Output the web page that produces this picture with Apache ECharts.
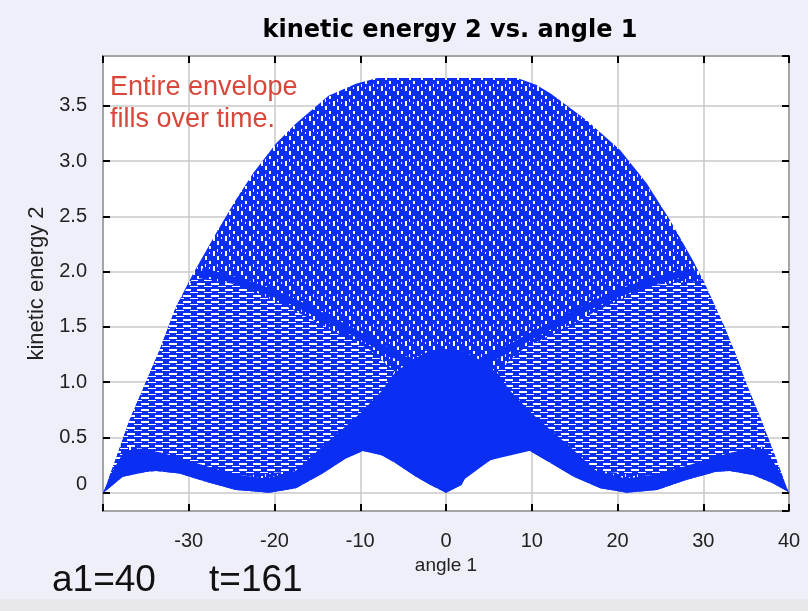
<!DOCTYPE html>
<html>
<head>
<meta charset="utf-8">
<script src="https://cdn.jsdelivr.net/npm/echarts@6/dist/echarts.min.js"></script>
<style>
  html, body { margin: 0; padding: 0; background: #efeff9; }
  #chart { width: 808px; height: 611px; }
</style>
</head>
<body>
<div id="chart"></div>
<script>
// Outer envelope of the trajectory: top edge (angle 1 in degrees, kinetic energy 2)
const topAngle  = [-40, -39.8, -38.4, -36.9, -34.9, -33.4, -31.5, -29.5, -26.8, -24.5, -22.5, -19.8, -17.5, -13.7, -10.5, -8,
                   8.3, 10.5, 12.2, 16.4, 20.3, 23.4, 26.1, 28.8, 30.0, 32.3, 33.9, 35.0, 36.6, 38.1, 39.7, 40];
const topEnergy = [0, 0.02, 0.33, 0.66, 1.02, 1.29, 1.68, 1.98, 2.35, 2.65, 2.89, 3.16, 3.34, 3.59, 3.70, 3.75,
                   3.75, 3.69, 3.61, 3.37, 3.10, 2.80, 2.47, 2.10, 1.92, 1.53, 1.23, 0.99, 0.69, 0.39, 0.05, 0];

// Bottom edge of the envelope (the white scallops)
const lowAngle  = [-40, -39.8, -37.7, -34.9, -33.8, -31.1, -28.0, -24.5, -20.6, -17.5, -14.4, -11.7, -9.7, -8.2, -5.9, -3.5, -1.8, 0,
                   1.8, 2.5, 5.2, 8.7, 9.8, 12.2, 14.9, 18.0, 21.1, 24.6, 28.0, 31.5, 33.1, 35.8, 38.1, 39.9, 40];
const lowEnergy = [0, 0.01, 0.145, 0.19, 0.196, 0.175, 0.10, 0.025, 0.0, 0.04, 0.175, 0.31, 0.377, 0.37, 0.27, 0.145, 0.07, 0,
                   0.07, 0.175, 0.296, 0.38, 0.377, 0.27, 0.145, 0.04, 0.0, 0.025, 0.115, 0.19, 0.196, 0.16, 0.085, 0.01, 0];

// Dense band just above the bottom edge (upper side of the band)
const bandAngle  = [-40, -39, -37.5, -35.5, -33, -30, -27, -24, -21, -17.5, -14.4, -12, -10,
                    10, 12, 14.4, 17.5, 21, 24, 27, 30, 33, 35.5, 37.5, 39, 40];
const bandEnergy = [0, 0.18, 0.38, 0.40, 0.36, 0.29, 0.22, 0.16, 0.13, 0.20, 0.42, 0.58, 0.72,
                    0.72, 0.58, 0.42, 0.20, 0.13, 0.16, 0.22, 0.29, 0.36, 0.40, 0.36, 0.18, 0];

// Dense central column
const coreAngle  = [-10, -7.5, -6, -4, -2, 0, 2, 4, 6, 7.5, 10];
const coreEnergy = [0.72, 0.92, 1.08, 1.2, 1.28, 1.3, 1.28, 1.2, 1.08, 0.92, 0.72];

// Dense arms rising from the centre towards the sides
const armLeftAngle   = [-2, -6, -10, -15, -20, -25, -28.5];
const armLeftEnergy  = [1.1, 1.25, 1.42, 1.62, 1.8, 1.93, 2.0];
const armRightAngle  = [2, 6, 10, 15, 20, 25, 29];
const armRightEnergy = [1.1, 1.25, 1.42, 1.62, 1.8, 1.93, 2.0];

// Striped side lobes (outline)
const lobeLeftAngle   = [-39.5, -38.4, -36.9, -34.9, -33.4, -31.5, -29.5, -24, -19, -14, -9, -6, -8, -12, -17.5, -24.5, -31, -36.9];
const lobeLeftEnergy  = [0.1, 0.33, 0.66, 1.02, 1.29, 1.68, 1.95, 1.88, 1.7, 1.5, 1.3, 1.1, 0.8, 0.55, 0.2, 0.15, 0.3, 0.42];
const lobeRightAngle  = [39.5, 38.1, 36.6, 35.0, 33.9, 32.3, 30.0, 24, 19, 14, 9, 6, 8, 12, 17.5, 24.5, 31, 36.9];
const lobeRightEnergy = [0.1, 0.39, 0.69, 0.99, 1.23, 1.53, 1.92, 1.88, 1.7, 1.5, 1.3, 1.1, 0.8, 0.55, 0.2, 0.15, 0.3, 0.42];

const xTicks = [-30, -20, -10, 0, 10, 20, 30, 40];

const BLUE = '#0b2ff2';
const FONT = '"Liberation Sans", Arial, sans-serif';

function zip(a, b) { return a.map((v, i) => [v, b[i]]); }

// Fill textures for the trajectory mesh (staggered white gaps on blue)
function makePattern(w, h, holes) {
  const c = document.createElement('canvas');
  c.width = w; c.height = h;
  const g = c.getContext('2d');
  g.fillStyle = BLUE;
  g.fillRect(0, 0, w, h);
  g.fillStyle = '#ffffff';
  holes.forEach(r => g.fillRect(r[0], r[1], r[2], r[3]));
  return { image: c, repeat: 'repeat' };
}
const meshFill = makePattern(12, 15, [
  [1, 1, 2, 4], [5, 6, 2, 3], [9, 11, 2, 4], [9, 0, 2, 1],
  [1, 9, 1, 3], [5, 12, 1, 2]
]);
const stripeFill = makePattern(14, 6, [
  [1, 1, 8, 2], [8, 4, 6, 1], [0, 4, 2, 1]
]);

function polygonSeries(points, fill, z) {
  return {
    type: 'custom',
    coordinateSystem: 'cartesian2d',
    clip: true,
    z: z,
    silent: true,
    data: points,
    renderItem: function (params, api) {
      if (params.dataIndex !== 0) return null;
      return {
        type: 'polygon',
        shape: { points: points.map(p => api.coord(p)) },
        style: { fill: fill, stroke: null }
      };
    }
  };
}

const envelope = zip(topAngle, topEnergy).concat(zip(lowAngle, lowEnergy).reverse());
const band = zip(bandAngle, bandEnergy).concat(zip(lowAngle, lowEnergy).reverse());
const core = zip(coreAngle, coreEnergy).concat([[9.7, 0.377], [5.2, 0.296], [0, 0], [-5.2, 0.296], [-9.7, 0.377]]);

const chart = echarts.init(document.getElementById('chart'), null, { renderer: 'canvas' });

// Inward ticks on all four sides of the frame
const axisTickStyle = { show: true, inside: true, length: 7, lineStyle: { color: '#000', width: 2 } };
const hiddenLine = { show: false, onZero: false };

chart.setOption({
  backgroundColor: '#efeff9',
  animation: false,
  title: {
    text: 'kinetic energy 2 vs. angle 1',
    left: 445, top: 14, textAlign: 'center',
    textStyle: { fontFamily: '"DejaVu Sans", sans-serif', fontSize: 24, fontWeight: 'bold', color: '#000' }
  },
  grid: {
    left: 103, right: 19, top: 56, bottom: 100,
    show: true, backgroundColor: '#ffffff', borderColor: '#000', borderWidth: 1.5
  },
  xAxis: [{
    type: 'value', min: -40, max: 40, interval: 10, position: 'bottom',
    name: 'angle 1', nameLocation: 'middle', nameGap: 43,
    nameTextStyle: { fontFamily: FONT, fontSize: 19, color: '#222' },
    axisLine: hiddenLine,
    axisTick: axisTickStyle,
    axisLabel: {
      margin: 20, fontFamily: FONT, fontSize: 20, color: '#222',
      formatter: v => (xTicks.indexOf(v) >= 0 ? String(v) : '')
    },
    splitLine: { show: true, lineStyle: { color: '#c8c8c8', width: 1.5 } }
  }, {
    type: 'value', min: -40, max: 40, interval: 10, position: 'top',
    axisLine: hiddenLine, axisTick: axisTickStyle,
    axisLabel: { show: false }, splitLine: { show: false }
  }],
  yAxis: [{
    type: 'value', min: -0.165, max: 3.95, splitNumber: 8, position: 'left',
    name: 'kinetic energy 2', nameLocation: 'middle', nameGap: 55, nameRotate: 90,
    nameTextStyle: { fontFamily: FONT, fontSize: 22, color: '#222' },
    axisLine: hiddenLine,
    axisTick: axisTickStyle,
    axisLabel: {
      margin: 16, fontFamily: FONT, fontSize: 20, color: '#222',
      showMinLabel: false, showMaxLabel: false,
      formatter: v => (v === 0 ? '{zero|0}' : v.toFixed(1)),
      rich: { zero: { fontFamily: FONT, fontSize: 20, color: '#222', padding: [0, 0, 16, 0] } }
    },
    splitLine: { show: true, lineStyle: { color: '#c8c8c8', width: 1.5 } }
  }, {
    type: 'value', min: -0.165, max: 3.95, splitNumber: 8, position: 'right',
    axisLine: hiddenLine, axisTick: axisTickStyle,
    axisLabel: { show: false }, splitLine: { show: false }
  }],
  graphic: [{
    type: 'text', left: 110, top: 72, z: 100,
    style: {
      text: 'Entire envelope\nfills over time.',
      fontFamily: FONT, fontSize: 27, lineHeight: 32,
      fill: '#d9473a'
    }
  }, {
    type: 'text', left: 52, top: 562, z: 100,
    style: { text: 'a1=40', fontFamily: FONT, fontSize: 37, fill: '#111' }
  }, {
    type: 'text', left: 209, top: 562, z: 100,
    style: { text: 't=161', fontFamily: FONT, fontSize: 37, fill: '#111' }
  }, {
    type: 'rect', left: 0, top: 599, z: 0,
    shape: { width: 808, height: 12 },
    style: { fill: '#e8e8ec' }
  }],
  series: [
    polygonSeries(envelope, meshFill, 2),
    polygonSeries(zip(lobeLeftAngle, lobeLeftEnergy), stripeFill, 3),
    polygonSeries(zip(lobeRightAngle, lobeRightEnergy), stripeFill, 3),
    polygonSeries(band, BLUE, 4),
    polygonSeries(core, BLUE, 4),
    {
      type: 'line', data: zip(armLeftAngle, armLeftEnergy), z: 5, silent: true,
      symbol: 'none', smooth: true, lineStyle: { color: BLUE, width: 7 }
    },
    {
      type: 'line', data: zip(armRightAngle, armRightEnergy), z: 5, silent: true,
      symbol: 'none', smooth: true, lineStyle: { color: BLUE, width: 7 }
    },
    // keeps the mirrored top/right axes bound to the grid
    { type: 'scatter', xAxisIndex: 1, yAxisIndex: 1, data: [], silent: true }
  ]
});
</script>
</body>
</html>
